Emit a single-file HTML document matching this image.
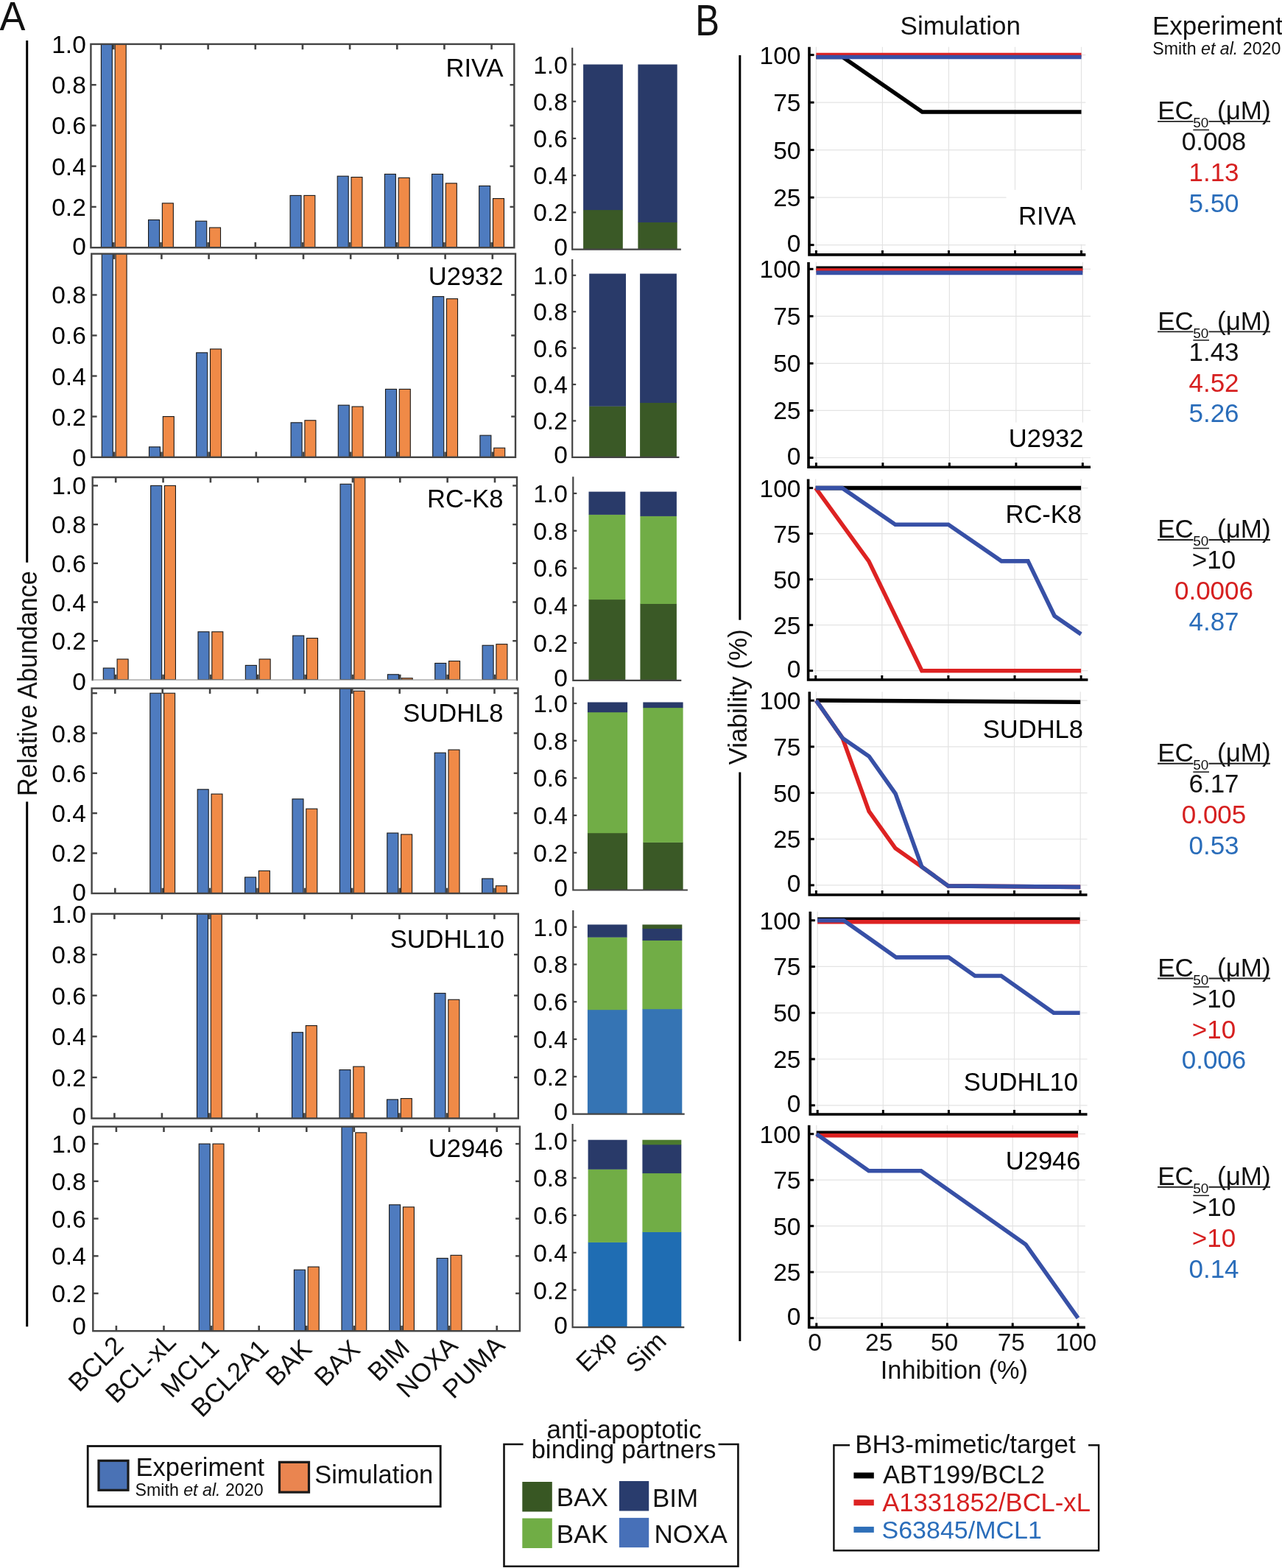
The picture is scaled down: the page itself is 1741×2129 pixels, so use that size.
<!DOCTYPE html>
<html><head><meta charset="utf-8"><title>Figure</title><style>html,body{margin:0;padding:0;background:#fff;}svg{display:block;}</style></head><body>
<svg width="1741" height="2129" viewBox="0 0 1741 2129" font-family="'Liberation Sans', Arial, Helvetica, sans-serif">
<rect x="0" y="0" width="1741" height="2129" fill="#fff"/>
<defs></defs>
<clipPath id="clipA_RIVA"><rect x="123.4" y="59.9" width="574.9" height="276.3"/></clipPath>
<g clip-path="url(#clipA_RIVA)" stroke="#1a1a1a" stroke-width="1.1">
<rect x="137.4" y="4.78" width="15" height="331.32" fill="#4e7bbf" />
<rect x="156.2" y="4.78" width="15" height="331.32" fill="#f08a47" />
<rect x="201.56" y="298.55" width="15" height="37.55" fill="#4e7bbf" />
<rect x="220.36" y="275.91" width="15" height="60.19" fill="#f08a47" />
<rect x="265.72" y="300.21" width="15" height="35.89" fill="#4e7bbf" />
<rect x="284.52" y="309.04" width="15" height="27.06" fill="#f08a47" />
<rect x="394.04" y="265.42" width="15" height="70.68" fill="#4e7bbf" />
<rect x="412.84" y="265.42" width="15" height="70.68" fill="#f08a47" />
<rect x="458.2" y="239.19" width="15" height="96.91" fill="#4e7bbf" />
<rect x="477" y="240.57" width="15" height="95.53" fill="#f08a47" />
<rect x="522.36" y="236.43" width="15" height="99.67" fill="#4e7bbf" />
<rect x="541.16" y="241.4" width="15" height="94.7" fill="#f08a47" />
<rect x="586.52" y="236.43" width="15" height="99.67" fill="#4e7bbf" />
<rect x="605.32" y="248.85" width="15" height="87.25" fill="#f08a47" />
<rect x="650.68" y="252.44" width="15" height="83.66" fill="#4e7bbf" />
<rect x="669.48" y="269.56" width="15" height="66.54" fill="#f08a47" />
</g>
<g stroke="#444444" stroke-width="2.4">
<line x1="154.3" y1="336.2" x2="154.3" y2="328.9" stroke="#444444" stroke-width="2.6" />
<line x1="154.3" y1="59.9" x2="154.3" y2="67.2" stroke="#444444" stroke-width="2.6" />
<line x1="218.46" y1="336.2" x2="218.46" y2="328.9" stroke="#444444" stroke-width="2.6" />
<line x1="218.46" y1="59.9" x2="218.46" y2="67.2" stroke="#444444" stroke-width="2.6" />
<line x1="282.62" y1="336.2" x2="282.62" y2="328.9" stroke="#444444" stroke-width="2.6" />
<line x1="282.62" y1="59.9" x2="282.62" y2="67.2" stroke="#444444" stroke-width="2.6" />
<line x1="346.78" y1="336.2" x2="346.78" y2="328.9" stroke="#444444" stroke-width="2.6" />
<line x1="346.78" y1="59.9" x2="346.78" y2="67.2" stroke="#444444" stroke-width="2.6" />
<line x1="410.94" y1="336.2" x2="410.94" y2="328.9" stroke="#444444" stroke-width="2.6" />
<line x1="410.94" y1="59.9" x2="410.94" y2="67.2" stroke="#444444" stroke-width="2.6" />
<line x1="475.1" y1="336.2" x2="475.1" y2="328.9" stroke="#444444" stroke-width="2.6" />
<line x1="475.1" y1="59.9" x2="475.1" y2="67.2" stroke="#444444" stroke-width="2.6" />
<line x1="539.26" y1="336.2" x2="539.26" y2="328.9" stroke="#444444" stroke-width="2.6" />
<line x1="539.26" y1="59.9" x2="539.26" y2="67.2" stroke="#444444" stroke-width="2.6" />
<line x1="603.42" y1="336.2" x2="603.42" y2="328.9" stroke="#444444" stroke-width="2.6" />
<line x1="603.42" y1="59.9" x2="603.42" y2="67.2" stroke="#444444" stroke-width="2.6" />
<line x1="667.58" y1="336.2" x2="667.58" y2="328.9" stroke="#444444" stroke-width="2.6" />
<line x1="667.58" y1="59.9" x2="667.58" y2="67.2" stroke="#444444" stroke-width="2.6" />
<line x1="123.4" y1="280.88" x2="130.7" y2="280.88" stroke="#444444" stroke-width="2.4" />
<line x1="698.3" y1="280.88" x2="692.5" y2="280.88" stroke="#444444" stroke-width="2.4" />
<line x1="123.4" y1="225.66" x2="130.7" y2="225.66" stroke="#444444" stroke-width="2.4" />
<line x1="698.3" y1="225.66" x2="692.5" y2="225.66" stroke="#444444" stroke-width="2.4" />
<line x1="123.4" y1="170.44" x2="130.7" y2="170.44" stroke="#444444" stroke-width="2.4" />
<line x1="698.3" y1="170.44" x2="692.5" y2="170.44" stroke="#444444" stroke-width="2.4" />
<line x1="123.4" y1="115.22" x2="130.7" y2="115.22" stroke="#444444" stroke-width="2.4" />
<line x1="698.3" y1="115.22" x2="692.5" y2="115.22" stroke="#444444" stroke-width="2.4" />
</g>
<rect x="123.4" y="59.9" width="574.9" height="276.3" fill="none" stroke="#444444" stroke-width="2.4"/>
<text x="116.8" y="72" font-size="33.5" text-anchor="end" fill="#000" >1.0</text>
<text x="116.8" y="127.22" font-size="33.5" text-anchor="end" fill="#000" >0.8</text>
<text x="116.8" y="182.44" font-size="33.5" text-anchor="end" fill="#000" >0.6</text>
<text x="116.8" y="237.66" font-size="33.5" text-anchor="end" fill="#000" >0.4</text>
<text x="116.8" y="292.88" font-size="33.5" text-anchor="end" fill="#000" >0.2</text>
<text x="116.8" y="345.5" font-size="33.5" text-anchor="end" fill="#000" >0</text>
<text x="683.5" y="103.6" font-size="34.5" text-anchor="end" fill="#000" >RIVA</text>
<clipPath id="clipA_U2932"><rect x="124.3" y="344.6" width="575.7" height="276.2"/></clipPath>
<g clip-path="url(#clipA_U2932)" stroke="#1a1a1a" stroke-width="1.1">
<rect x="138.3" y="290.36" width="15" height="330.24" fill="#4e7bbf" />
<rect x="157.1" y="290.36" width="15" height="330.24" fill="#f08a47" />
<rect x="202.5" y="606.84" width="15" height="13.76" fill="#4e7bbf" />
<rect x="221.3" y="565.56" width="15" height="55.04" fill="#f08a47" />
<rect x="266.7" y="478.87" width="15" height="141.73" fill="#4e7bbf" />
<rect x="285.5" y="473.92" width="15" height="146.68" fill="#f08a47" />
<rect x="395.1" y="573.82" width="15" height="46.78" fill="#4e7bbf" />
<rect x="413.9" y="570.79" width="15" height="49.81" fill="#f08a47" />
<rect x="459.3" y="550.15" width="15" height="70.45" fill="#4e7bbf" />
<rect x="478.1" y="552.08" width="15" height="68.52" fill="#f08a47" />
<rect x="523.5" y="528.41" width="15" height="92.19" fill="#4e7bbf" />
<rect x="542.3" y="528.41" width="15" height="92.19" fill="#f08a47" />
<rect x="587.7" y="402.64" width="15" height="217.96" fill="#4e7bbf" />
<rect x="606.5" y="405.67" width="15" height="214.93" fill="#f08a47" />
<rect x="651.9" y="591.15" width="15" height="29.45" fill="#4e7bbf" />
<rect x="670.7" y="608.22" width="15" height="12.38" fill="#f08a47" />
</g>
<g stroke="#444444" stroke-width="2.4">
<line x1="155.2" y1="620.8" x2="155.2" y2="613.5" stroke="#444444" stroke-width="2.6" />
<line x1="155.2" y1="344.6" x2="155.2" y2="351.9" stroke="#444444" stroke-width="2.6" />
<line x1="219.4" y1="620.8" x2="219.4" y2="613.5" stroke="#444444" stroke-width="2.6" />
<line x1="219.4" y1="344.6" x2="219.4" y2="351.9" stroke="#444444" stroke-width="2.6" />
<line x1="283.6" y1="620.8" x2="283.6" y2="613.5" stroke="#444444" stroke-width="2.6" />
<line x1="283.6" y1="344.6" x2="283.6" y2="351.9" stroke="#444444" stroke-width="2.6" />
<line x1="347.8" y1="620.8" x2="347.8" y2="613.5" stroke="#444444" stroke-width="2.6" />
<line x1="347.8" y1="344.6" x2="347.8" y2="351.9" stroke="#444444" stroke-width="2.6" />
<line x1="412" y1="620.8" x2="412" y2="613.5" stroke="#444444" stroke-width="2.6" />
<line x1="412" y1="344.6" x2="412" y2="351.9" stroke="#444444" stroke-width="2.6" />
<line x1="476.2" y1="620.8" x2="476.2" y2="613.5" stroke="#444444" stroke-width="2.6" />
<line x1="476.2" y1="344.6" x2="476.2" y2="351.9" stroke="#444444" stroke-width="2.6" />
<line x1="540.4" y1="620.8" x2="540.4" y2="613.5" stroke="#444444" stroke-width="2.6" />
<line x1="540.4" y1="344.6" x2="540.4" y2="351.9" stroke="#444444" stroke-width="2.6" />
<line x1="604.6" y1="620.8" x2="604.6" y2="613.5" stroke="#444444" stroke-width="2.6" />
<line x1="604.6" y1="344.6" x2="604.6" y2="351.9" stroke="#444444" stroke-width="2.6" />
<line x1="668.8" y1="620.8" x2="668.8" y2="613.5" stroke="#444444" stroke-width="2.6" />
<line x1="668.8" y1="344.6" x2="668.8" y2="351.9" stroke="#444444" stroke-width="2.6" />
<line x1="124.3" y1="565.56" x2="131.6" y2="565.56" stroke="#444444" stroke-width="2.4" />
<line x1="700" y1="565.56" x2="694.2" y2="565.56" stroke="#444444" stroke-width="2.4" />
<line x1="124.3" y1="510.52" x2="131.6" y2="510.52" stroke="#444444" stroke-width="2.4" />
<line x1="700" y1="510.52" x2="694.2" y2="510.52" stroke="#444444" stroke-width="2.4" />
<line x1="124.3" y1="455.48" x2="131.6" y2="455.48" stroke="#444444" stroke-width="2.4" />
<line x1="700" y1="455.48" x2="694.2" y2="455.48" stroke="#444444" stroke-width="2.4" />
<line x1="124.3" y1="400.44" x2="131.6" y2="400.44" stroke="#444444" stroke-width="2.4" />
<line x1="700" y1="400.44" x2="694.2" y2="400.44" stroke="#444444" stroke-width="2.4" />
</g>
<rect x="124.3" y="344.6" width="575.7" height="276.2" fill="none" stroke="#444444" stroke-width="2.4"/>
<text x="116.8" y="412.44" font-size="33.5" text-anchor="end" fill="#000" >0.8</text>
<text x="116.8" y="467.48" font-size="33.5" text-anchor="end" fill="#000" >0.6</text>
<text x="116.8" y="522.52" font-size="33.5" text-anchor="end" fill="#000" >0.4</text>
<text x="116.8" y="577.56" font-size="33.5" text-anchor="end" fill="#000" >0.2</text>
<text x="116.8" y="632.9" font-size="33.5" text-anchor="end" fill="#000" >0</text>
<text x="683.5" y="386.5" font-size="34.5" text-anchor="end" fill="#000" >U2932</text>
<clipPath id="clipA_RCK8"><rect x="125.7" y="648" width="576.3" height="275.1"/></clipPath>
<g clip-path="url(#clipA_RCK8)" stroke="#1a1a1a" stroke-width="1.1">
<rect x="140.3" y="907.09" width="15" height="15.81" fill="#4e7bbf" />
<rect x="159.1" y="894.97" width="15" height="27.93" fill="#f08a47" />
<rect x="204.65" y="659.4" width="15" height="263.5" fill="#4e7bbf" />
<rect x="223.45" y="659.4" width="15" height="263.5" fill="#f08a47" />
<rect x="269" y="857.82" width="15" height="65.08" fill="#4e7bbf" />
<rect x="287.8" y="857.82" width="15" height="65.08" fill="#f08a47" />
<rect x="333.35" y="903.4" width="15" height="19.5" fill="#4e7bbf" />
<rect x="352.15" y="894.97" width="15" height="27.93" fill="#f08a47" />
<rect x="397.7" y="863.09" width="15" height="59.81" fill="#4e7bbf" />
<rect x="416.5" y="866.51" width="15" height="56.39" fill="#f08a47" />
<rect x="462.05" y="657.29" width="15" height="265.61" fill="#4e7bbf" />
<rect x="480.85" y="606.7" width="15" height="316.2" fill="#f08a47" />
<rect x="526.4" y="915.79" width="15" height="7.11" fill="#4e7bbf" />
<rect x="545.2" y="920.79" width="15" height="2.11" fill="#f08a47" />
<rect x="590.75" y="900.5" width="15" height="22.4" fill="#4e7bbf" />
<rect x="609.55" y="897.6" width="15" height="25.3" fill="#f08a47" />
<rect x="655.1" y="876.26" width="15" height="46.64" fill="#4e7bbf" />
<rect x="673.9" y="874.68" width="15" height="48.22" fill="#f08a47" />
</g>
<g stroke="#444444" stroke-width="2.4">
<line x1="157.2" y1="923.1" x2="157.2" y2="915.8" stroke="#444444" stroke-width="2.6" />
<line x1="157.2" y1="648" x2="157.2" y2="655.3" stroke="#444444" stroke-width="2.6" />
<line x1="221.55" y1="923.1" x2="221.55" y2="915.8" stroke="#444444" stroke-width="2.6" />
<line x1="221.55" y1="648" x2="221.55" y2="655.3" stroke="#444444" stroke-width="2.6" />
<line x1="285.9" y1="923.1" x2="285.9" y2="915.8" stroke="#444444" stroke-width="2.6" />
<line x1="285.9" y1="648" x2="285.9" y2="655.3" stroke="#444444" stroke-width="2.6" />
<line x1="350.25" y1="923.1" x2="350.25" y2="915.8" stroke="#444444" stroke-width="2.6" />
<line x1="350.25" y1="648" x2="350.25" y2="655.3" stroke="#444444" stroke-width="2.6" />
<line x1="414.6" y1="923.1" x2="414.6" y2="915.8" stroke="#444444" stroke-width="2.6" />
<line x1="414.6" y1="648" x2="414.6" y2="655.3" stroke="#444444" stroke-width="2.6" />
<line x1="478.95" y1="923.1" x2="478.95" y2="915.8" stroke="#444444" stroke-width="2.6" />
<line x1="478.95" y1="648" x2="478.95" y2="655.3" stroke="#444444" stroke-width="2.6" />
<line x1="543.3" y1="923.1" x2="543.3" y2="915.8" stroke="#444444" stroke-width="2.6" />
<line x1="543.3" y1="648" x2="543.3" y2="655.3" stroke="#444444" stroke-width="2.6" />
<line x1="607.65" y1="923.1" x2="607.65" y2="915.8" stroke="#444444" stroke-width="2.6" />
<line x1="607.65" y1="648" x2="607.65" y2="655.3" stroke="#444444" stroke-width="2.6" />
<line x1="672" y1="923.1" x2="672" y2="915.8" stroke="#444444" stroke-width="2.6" />
<line x1="672" y1="648" x2="672" y2="655.3" stroke="#444444" stroke-width="2.6" />
<line x1="125.7" y1="870.2" x2="133" y2="870.2" stroke="#444444" stroke-width="2.4" />
<line x1="702" y1="870.2" x2="696.2" y2="870.2" stroke="#444444" stroke-width="2.4" />
<line x1="125.7" y1="817.5" x2="133" y2="817.5" stroke="#444444" stroke-width="2.4" />
<line x1="702" y1="817.5" x2="696.2" y2="817.5" stroke="#444444" stroke-width="2.4" />
<line x1="125.7" y1="764.8" x2="133" y2="764.8" stroke="#444444" stroke-width="2.4" />
<line x1="702" y1="764.8" x2="696.2" y2="764.8" stroke="#444444" stroke-width="2.4" />
<line x1="125.7" y1="712.1" x2="133" y2="712.1" stroke="#444444" stroke-width="2.4" />
<line x1="702" y1="712.1" x2="696.2" y2="712.1" stroke="#444444" stroke-width="2.4" />
<line x1="125.7" y1="659.4" x2="133" y2="659.4" stroke="#444444" stroke-width="2.4" />
<line x1="702" y1="659.4" x2="696.2" y2="659.4" stroke="#444444" stroke-width="2.4" />
</g>
<path d="M125.7 923.1 V648 H702 V923.1" fill="none" stroke="#444444" stroke-width="2.4" stroke-linecap="square"/>
<line x1="125.7" y1="923.1" x2="702" y2="923.1" stroke="#9a9a9a" stroke-width="1.2" />
<text x="116.8" y="671.4" font-size="33.5" text-anchor="end" fill="#000" >1.0</text>
<text x="116.8" y="724.1" font-size="33.5" text-anchor="end" fill="#000" >0.8</text>
<text x="116.8" y="776.8" font-size="33.5" text-anchor="end" fill="#000" >0.6</text>
<text x="116.8" y="829.5" font-size="33.5" text-anchor="end" fill="#000" >0.4</text>
<text x="116.8" y="882.2" font-size="33.5" text-anchor="end" fill="#000" >0.2</text>
<text x="116.8" y="937.2" font-size="33.5" text-anchor="end" fill="#000" >0</text>
<text x="683.5" y="689" font-size="34.5" text-anchor="end" fill="#000" >RC-K8</text>
<clipPath id="clipA_SUDHL8"><rect x="124.6" y="934.6" width="578.9" height="278.4"/></clipPath>
<g clip-path="url(#clipA_SUDHL8)" stroke="#1a1a1a" stroke-width="1.1">
<rect x="203.8" y="941.2" width="15" height="271.6" fill="#4e7bbf" />
<rect x="222.6" y="941.2" width="15" height="271.6" fill="#f08a47" />
<rect x="268.2" y="1071.84" width="15" height="140.96" fill="#4e7bbf" />
<rect x="287" y="1078.09" width="15" height="134.71" fill="#f08a47" />
<rect x="332.6" y="1191.07" width="15" height="21.73" fill="#4e7bbf" />
<rect x="351.4" y="1182.38" width="15" height="30.42" fill="#f08a47" />
<rect x="397" y="1084.88" width="15" height="127.92" fill="#4e7bbf" />
<rect x="415.8" y="1098.18" width="15" height="114.62" fill="#f08a47" />
<rect x="461.4" y="886.88" width="15" height="325.92" fill="#4e7bbf" />
<rect x="480.2" y="938.21" width="15" height="274.59" fill="#f08a47" />
<rect x="525.8" y="1131.05" width="15" height="81.75" fill="#4e7bbf" />
<rect x="544.6" y="1132.95" width="15" height="79.85" fill="#f08a47" />
<rect x="590.2" y="1022.14" width="15" height="190.66" fill="#4e7bbf" />
<rect x="609" y="1018.06" width="15" height="194.74" fill="#f08a47" />
<rect x="654.6" y="1192.97" width="15" height="19.83" fill="#4e7bbf" />
<rect x="673.4" y="1202.75" width="15" height="10.05" fill="#f08a47" />
</g>
<g stroke="#444444" stroke-width="2.4">
<line x1="156.3" y1="1213" x2="156.3" y2="1205.7" stroke="#444444" stroke-width="2.6" />
<line x1="156.3" y1="934.6" x2="156.3" y2="941.9" stroke="#444444" stroke-width="2.6" />
<line x1="220.7" y1="1213" x2="220.7" y2="1205.7" stroke="#444444" stroke-width="2.6" />
<line x1="220.7" y1="934.6" x2="220.7" y2="941.9" stroke="#444444" stroke-width="2.6" />
<line x1="285.1" y1="1213" x2="285.1" y2="1205.7" stroke="#444444" stroke-width="2.6" />
<line x1="285.1" y1="934.6" x2="285.1" y2="941.9" stroke="#444444" stroke-width="2.6" />
<line x1="349.5" y1="1213" x2="349.5" y2="1205.7" stroke="#444444" stroke-width="2.6" />
<line x1="349.5" y1="934.6" x2="349.5" y2="941.9" stroke="#444444" stroke-width="2.6" />
<line x1="413.9" y1="1213" x2="413.9" y2="1205.7" stroke="#444444" stroke-width="2.6" />
<line x1="413.9" y1="934.6" x2="413.9" y2="941.9" stroke="#444444" stroke-width="2.6" />
<line x1="478.3" y1="1213" x2="478.3" y2="1205.7" stroke="#444444" stroke-width="2.6" />
<line x1="478.3" y1="934.6" x2="478.3" y2="941.9" stroke="#444444" stroke-width="2.6" />
<line x1="542.7" y1="1213" x2="542.7" y2="1205.7" stroke="#444444" stroke-width="2.6" />
<line x1="542.7" y1="934.6" x2="542.7" y2="941.9" stroke="#444444" stroke-width="2.6" />
<line x1="607.1" y1="1213" x2="607.1" y2="1205.7" stroke="#444444" stroke-width="2.6" />
<line x1="607.1" y1="934.6" x2="607.1" y2="941.9" stroke="#444444" stroke-width="2.6" />
<line x1="671.5" y1="1213" x2="671.5" y2="1205.7" stroke="#444444" stroke-width="2.6" />
<line x1="671.5" y1="934.6" x2="671.5" y2="941.9" stroke="#444444" stroke-width="2.6" />
<line x1="124.6" y1="1158.48" x2="131.9" y2="1158.48" stroke="#444444" stroke-width="2.4" />
<line x1="703.5" y1="1158.48" x2="697.7" y2="1158.48" stroke="#444444" stroke-width="2.4" />
<line x1="124.6" y1="1104.16" x2="131.9" y2="1104.16" stroke="#444444" stroke-width="2.4" />
<line x1="703.5" y1="1104.16" x2="697.7" y2="1104.16" stroke="#444444" stroke-width="2.4" />
<line x1="124.6" y1="1049.84" x2="131.9" y2="1049.84" stroke="#444444" stroke-width="2.4" />
<line x1="703.5" y1="1049.84" x2="697.7" y2="1049.84" stroke="#444444" stroke-width="2.4" />
<line x1="124.6" y1="995.52" x2="131.9" y2="995.52" stroke="#444444" stroke-width="2.4" />
<line x1="703.5" y1="995.52" x2="697.7" y2="995.52" stroke="#444444" stroke-width="2.4" />
<line x1="124.6" y1="941.2" x2="131.9" y2="941.2" stroke="#444444" stroke-width="2.4" />
<line x1="703.5" y1="941.2" x2="697.7" y2="941.2" stroke="#444444" stroke-width="2.4" />
</g>
<rect x="124.6" y="934.6" width="578.9" height="278.4" fill="none" stroke="#444444" stroke-width="2.4"/>
<text x="116.8" y="1007.52" font-size="33.5" text-anchor="end" fill="#000" >0.8</text>
<text x="116.8" y="1061.84" font-size="33.5" text-anchor="end" fill="#000" >0.6</text>
<text x="116.8" y="1116.16" font-size="33.5" text-anchor="end" fill="#000" >0.4</text>
<text x="116.8" y="1170.48" font-size="33.5" text-anchor="end" fill="#000" >0.2</text>
<text x="116.8" y="1223.3" font-size="33.5" text-anchor="end" fill="#000" >0</text>
<text x="683.5" y="980" font-size="34.5" text-anchor="end" fill="#000" >SUDHL8</text>
<clipPath id="clipA_SUDHL10"><rect x="124.4" y="1240.8" width="579.4" height="277.7"/></clipPath>
<g clip-path="url(#clipA_SUDHL10)" stroke="#1a1a1a" stroke-width="1.1">
<rect x="267.5" y="1184.9" width="15" height="333.6" fill="#4e7bbf" />
<rect x="286.3" y="1184.9" width="15" height="333.6" fill="#f08a47" />
<rect x="396.5" y="1401.74" width="15" height="116.76" fill="#4e7bbf" />
<rect x="415.3" y="1392.57" width="15" height="125.93" fill="#f08a47" />
<rect x="461" y="1452.61" width="15" height="65.89" fill="#4e7bbf" />
<rect x="479.8" y="1448.17" width="15" height="70.33" fill="#f08a47" />
<rect x="525.5" y="1492.92" width="15" height="25.58" fill="#4e7bbf" />
<rect x="544.3" y="1491.53" width="15" height="26.97" fill="#f08a47" />
<rect x="590" y="1348.64" width="15" height="169.86" fill="#4e7bbf" />
<rect x="608.8" y="1357.26" width="15" height="161.24" fill="#f08a47" />
</g>
<g stroke="#444444" stroke-width="2.4">
<line x1="155.4" y1="1518.5" x2="155.4" y2="1511.2" stroke="#444444" stroke-width="2.6" />
<line x1="155.4" y1="1240.8" x2="155.4" y2="1248.1" stroke="#444444" stroke-width="2.6" />
<line x1="219.9" y1="1518.5" x2="219.9" y2="1511.2" stroke="#444444" stroke-width="2.6" />
<line x1="219.9" y1="1240.8" x2="219.9" y2="1248.1" stroke="#444444" stroke-width="2.6" />
<line x1="284.4" y1="1518.5" x2="284.4" y2="1511.2" stroke="#444444" stroke-width="2.6" />
<line x1="284.4" y1="1240.8" x2="284.4" y2="1248.1" stroke="#444444" stroke-width="2.6" />
<line x1="348.9" y1="1518.5" x2="348.9" y2="1511.2" stroke="#444444" stroke-width="2.6" />
<line x1="348.9" y1="1240.8" x2="348.9" y2="1248.1" stroke="#444444" stroke-width="2.6" />
<line x1="413.4" y1="1518.5" x2="413.4" y2="1511.2" stroke="#444444" stroke-width="2.6" />
<line x1="413.4" y1="1240.8" x2="413.4" y2="1248.1" stroke="#444444" stroke-width="2.6" />
<line x1="477.9" y1="1518.5" x2="477.9" y2="1511.2" stroke="#444444" stroke-width="2.6" />
<line x1="477.9" y1="1240.8" x2="477.9" y2="1248.1" stroke="#444444" stroke-width="2.6" />
<line x1="542.4" y1="1518.5" x2="542.4" y2="1511.2" stroke="#444444" stroke-width="2.6" />
<line x1="542.4" y1="1240.8" x2="542.4" y2="1248.1" stroke="#444444" stroke-width="2.6" />
<line x1="606.9" y1="1518.5" x2="606.9" y2="1511.2" stroke="#444444" stroke-width="2.6" />
<line x1="606.9" y1="1240.8" x2="606.9" y2="1248.1" stroke="#444444" stroke-width="2.6" />
<line x1="671.4" y1="1518.5" x2="671.4" y2="1511.2" stroke="#444444" stroke-width="2.6" />
<line x1="671.4" y1="1240.8" x2="671.4" y2="1248.1" stroke="#444444" stroke-width="2.6" />
<line x1="124.4" y1="1462.9" x2="131.7" y2="1462.9" stroke="#444444" stroke-width="2.4" />
<line x1="703.8" y1="1462.9" x2="698" y2="1462.9" stroke="#444444" stroke-width="2.4" />
<line x1="124.4" y1="1407.3" x2="131.7" y2="1407.3" stroke="#444444" stroke-width="2.4" />
<line x1="703.8" y1="1407.3" x2="698" y2="1407.3" stroke="#444444" stroke-width="2.4" />
<line x1="124.4" y1="1351.7" x2="131.7" y2="1351.7" stroke="#444444" stroke-width="2.4" />
<line x1="703.8" y1="1351.7" x2="698" y2="1351.7" stroke="#444444" stroke-width="2.4" />
<line x1="124.4" y1="1296.1" x2="131.7" y2="1296.1" stroke="#444444" stroke-width="2.4" />
<line x1="703.8" y1="1296.1" x2="698" y2="1296.1" stroke="#444444" stroke-width="2.4" />
</g>
<rect x="124.4" y="1240.8" width="579.4" height="277.7" fill="none" stroke="#444444" stroke-width="2.4"/>
<text x="116.8" y="1252.5" font-size="33.5" text-anchor="end" fill="#000" >1.0</text>
<text x="116.8" y="1308.1" font-size="33.5" text-anchor="end" fill="#000" >0.8</text>
<text x="116.8" y="1363.7" font-size="33.5" text-anchor="end" fill="#000" >0.6</text>
<text x="116.8" y="1419.3" font-size="33.5" text-anchor="end" fill="#000" >0.4</text>
<text x="116.8" y="1474.9" font-size="33.5" text-anchor="end" fill="#000" >0.2</text>
<text x="116.8" y="1527.2" font-size="33.5" text-anchor="end" fill="#000" >0</text>
<text x="685" y="1287" font-size="34.5" text-anchor="end" fill="#000" >SUDHL10</text>
<clipPath id="clipA_U2946"><rect x="126.3" y="1529.7" width="579.6" height="277.5"/></clipPath>
<g clip-path="url(#clipA_U2946)" stroke="#1a1a1a" stroke-width="1.1">
<rect x="270.2" y="1553.1" width="15" height="253.8" fill="#4e7bbf" />
<rect x="289" y="1553.1" width="15" height="253.8" fill="#f08a47" />
<rect x="399.4" y="1724.16" width="15" height="82.74" fill="#4e7bbf" />
<rect x="418.2" y="1720.1" width="15" height="86.8" fill="#f08a47" />
<rect x="464" y="1502.34" width="15" height="304.56" fill="#4e7bbf" />
<rect x="482.8" y="1537.87" width="15" height="269.03" fill="#f08a47" />
<rect x="528.6" y="1635.84" width="15" height="171.06" fill="#4e7bbf" />
<rect x="547.4" y="1638.88" width="15" height="168.02" fill="#f08a47" />
<rect x="593.2" y="1708.43" width="15" height="98.47" fill="#4e7bbf" />
<rect x="612" y="1704.36" width="15" height="102.54" fill="#f08a47" />
</g>
<g stroke="#444444" stroke-width="2.4">
<line x1="157.9" y1="1807.2" x2="157.9" y2="1799.9" stroke="#444444" stroke-width="2.6" />
<line x1="157.9" y1="1529.7" x2="157.9" y2="1537" stroke="#444444" stroke-width="2.6" />
<line x1="222.5" y1="1807.2" x2="222.5" y2="1799.9" stroke="#444444" stroke-width="2.6" />
<line x1="222.5" y1="1529.7" x2="222.5" y2="1537" stroke="#444444" stroke-width="2.6" />
<line x1="287.1" y1="1807.2" x2="287.1" y2="1799.9" stroke="#444444" stroke-width="2.6" />
<line x1="287.1" y1="1529.7" x2="287.1" y2="1537" stroke="#444444" stroke-width="2.6" />
<line x1="351.7" y1="1807.2" x2="351.7" y2="1799.9" stroke="#444444" stroke-width="2.6" />
<line x1="351.7" y1="1529.7" x2="351.7" y2="1537" stroke="#444444" stroke-width="2.6" />
<line x1="416.3" y1="1807.2" x2="416.3" y2="1799.9" stroke="#444444" stroke-width="2.6" />
<line x1="416.3" y1="1529.7" x2="416.3" y2="1537" stroke="#444444" stroke-width="2.6" />
<line x1="480.9" y1="1807.2" x2="480.9" y2="1799.9" stroke="#444444" stroke-width="2.6" />
<line x1="480.9" y1="1529.7" x2="480.9" y2="1537" stroke="#444444" stroke-width="2.6" />
<line x1="545.5" y1="1807.2" x2="545.5" y2="1799.9" stroke="#444444" stroke-width="2.6" />
<line x1="545.5" y1="1529.7" x2="545.5" y2="1537" stroke="#444444" stroke-width="2.6" />
<line x1="610.1" y1="1807.2" x2="610.1" y2="1799.9" stroke="#444444" stroke-width="2.6" />
<line x1="610.1" y1="1529.7" x2="610.1" y2="1537" stroke="#444444" stroke-width="2.6" />
<line x1="674.7" y1="1807.2" x2="674.7" y2="1799.9" stroke="#444444" stroke-width="2.6" />
<line x1="674.7" y1="1529.7" x2="674.7" y2="1537" stroke="#444444" stroke-width="2.6" />
<line x1="126.3" y1="1756.14" x2="133.6" y2="1756.14" stroke="#444444" stroke-width="2.4" />
<line x1="705.9" y1="1756.14" x2="700.1" y2="1756.14" stroke="#444444" stroke-width="2.4" />
<line x1="126.3" y1="1705.38" x2="133.6" y2="1705.38" stroke="#444444" stroke-width="2.4" />
<line x1="705.9" y1="1705.38" x2="700.1" y2="1705.38" stroke="#444444" stroke-width="2.4" />
<line x1="126.3" y1="1654.62" x2="133.6" y2="1654.62" stroke="#444444" stroke-width="2.4" />
<line x1="705.9" y1="1654.62" x2="700.1" y2="1654.62" stroke="#444444" stroke-width="2.4" />
<line x1="126.3" y1="1603.86" x2="133.6" y2="1603.86" stroke="#444444" stroke-width="2.4" />
<line x1="705.9" y1="1603.86" x2="700.1" y2="1603.86" stroke="#444444" stroke-width="2.4" />
<line x1="126.3" y1="1553.1" x2="133.6" y2="1553.1" stroke="#444444" stroke-width="2.4" />
<line x1="705.9" y1="1553.1" x2="700.1" y2="1553.1" stroke="#444444" stroke-width="2.4" />
</g>
<rect x="126.3" y="1529.7" width="579.6" height="277.5" fill="none" stroke="#444444" stroke-width="2.4"/>
<text x="116.8" y="1565.1" font-size="33.5" text-anchor="end" fill="#000" >1.0</text>
<text x="116.8" y="1615.86" font-size="33.5" text-anchor="end" fill="#000" >0.8</text>
<text x="116.8" y="1666.62" font-size="33.5" text-anchor="end" fill="#000" >0.6</text>
<text x="116.8" y="1717.38" font-size="33.5" text-anchor="end" fill="#000" >0.4</text>
<text x="116.8" y="1768.14" font-size="33.5" text-anchor="end" fill="#000" >0.2</text>
<text x="116.8" y="1811.9" font-size="33.5" text-anchor="end" fill="#000" >0</text>
<text x="683.5" y="1571.2" font-size="34.5" text-anchor="end" fill="#000" >U2946</text>
<rect x="792.1" y="284.86" width="53.7" height="54.04" fill="#3a5926" />
<rect x="792.1" y="87.5" width="53.7" height="197.66" fill="#293a69" />
<rect x="866.4" y="301.69" width="53.3" height="37.21" fill="#3a5926" />
<rect x="866.4" y="87.5" width="53.3" height="214.49" fill="#293a69" />
<g stroke="#444444" stroke-width="2.2" fill="none">
<path d="M777.2 64.8 V338.6 H924.9"/>
<line x1="777.2" y1="288.38" x2="782.2" y2="288.38" stroke="#444444" stroke-width="2.2" />
<line x1="777.2" y1="238.16" x2="782.2" y2="238.16" stroke="#444444" stroke-width="2.2" />
<line x1="777.2" y1="187.94" x2="782.2" y2="187.94" stroke="#444444" stroke-width="2.2" />
<line x1="777.2" y1="137.72" x2="782.2" y2="137.72" stroke="#444444" stroke-width="2.2" />
<line x1="777.2" y1="87.5" x2="782.2" y2="87.5" stroke="#444444" stroke-width="2.2" />
</g>
<text x="770.8" y="347" font-size="33.5" text-anchor="end" fill="#000" >0</text>
<text x="770.8" y="300.38" font-size="33.5" text-anchor="end" fill="#000" >0.2</text>
<text x="770.8" y="250.16" font-size="33.5" text-anchor="end" fill="#000" >0.4</text>
<text x="770.8" y="199.94" font-size="33.5" text-anchor="end" fill="#000" >0.6</text>
<text x="770.8" y="149.72" font-size="33.5" text-anchor="end" fill="#000" >0.8</text>
<text x="770.8" y="99.5" font-size="33.5" text-anchor="end" fill="#000" >1.0</text>
<rect x="800.2" y="551.39" width="49.8" height="69.71" fill="#3a5926" />
<rect x="800.2" y="371.58" width="49.8" height="180.12" fill="#293a69" />
<rect x="869.1" y="546.7" width="49.8" height="74.4" fill="#3a5926" />
<rect x="869.1" y="371.58" width="49.8" height="175.42" fill="#293a69" />
<g stroke="#444444" stroke-width="2.2" fill="none">
<path d="M777.2 351.9 V620.8 H922.4"/>
<line x1="777.2" y1="571.4" x2="782.2" y2="571.4" stroke="#444444" stroke-width="2.2" />
<line x1="777.2" y1="522" x2="782.2" y2="522" stroke="#444444" stroke-width="2.2" />
<line x1="777.2" y1="472.6" x2="782.2" y2="472.6" stroke="#444444" stroke-width="2.2" />
<line x1="777.2" y1="423.2" x2="782.2" y2="423.2" stroke="#444444" stroke-width="2.2" />
<line x1="777.2" y1="373.8" x2="782.2" y2="373.8" stroke="#444444" stroke-width="2.2" />
</g>
<text x="770.8" y="629.2" font-size="33.5" text-anchor="end" fill="#000" >0</text>
<text x="770.8" y="583.4" font-size="33.5" text-anchor="end" fill="#000" >0.2</text>
<text x="770.8" y="534" font-size="33.5" text-anchor="end" fill="#000" >0.4</text>
<text x="770.8" y="484.6" font-size="33.5" text-anchor="end" fill="#000" >0.6</text>
<text x="770.8" y="435.2" font-size="33.5" text-anchor="end" fill="#000" >0.8</text>
<text x="770.8" y="385.8" font-size="33.5" text-anchor="end" fill="#000" >1.0</text>
<rect x="799.5" y="813.86" width="49.8" height="110.24" fill="#3a5926" />
<rect x="799.5" y="698.59" width="49.8" height="115.57" fill="#71ad46" />
<rect x="799.5" y="667.61" width="49.8" height="31.28" fill="#293a69" />
<rect x="869.4" y="819.7" width="49.5" height="104.4" fill="#3a5926" />
<rect x="869.4" y="700.62" width="49.5" height="119.38" fill="#71ad46" />
<rect x="869.4" y="667.61" width="49.5" height="33.31" fill="#293a69" />
<g stroke="#444444" stroke-width="2.2" fill="none">
<path d="M778.3 647.3 V923.8 H925.3"/>
<line x1="778.3" y1="873.02" x2="783.3" y2="873.02" stroke="#444444" stroke-width="2.2" />
<line x1="778.3" y1="822.24" x2="783.3" y2="822.24" stroke="#444444" stroke-width="2.2" />
<line x1="778.3" y1="771.46" x2="783.3" y2="771.46" stroke="#444444" stroke-width="2.2" />
<line x1="778.3" y1="720.68" x2="783.3" y2="720.68" stroke="#444444" stroke-width="2.2" />
<line x1="778.3" y1="669.9" x2="783.3" y2="669.9" stroke="#444444" stroke-width="2.2" />
</g>
<text x="770.8" y="932.2" font-size="33.5" text-anchor="end" fill="#000" >0</text>
<text x="770.8" y="885.02" font-size="33.5" text-anchor="end" fill="#000" >0.2</text>
<text x="770.8" y="834.24" font-size="33.5" text-anchor="end" fill="#000" >0.4</text>
<text x="770.8" y="783.46" font-size="33.5" text-anchor="end" fill="#000" >0.6</text>
<text x="770.8" y="732.68" font-size="33.5" text-anchor="end" fill="#000" >0.8</text>
<text x="770.8" y="681.9" font-size="33.5" text-anchor="end" fill="#000" >1.0</text>
<rect x="797.9" y="1130.93" width="54.2" height="77.87" fill="#3a5926" />
<rect x="797.9" y="966.91" width="54.2" height="164.31" fill="#71ad46" />
<rect x="797.9" y="953.48" width="54.2" height="13.74" fill="#293a69" />
<rect x="873.3" y="1143.6" width="54.3" height="65.2" fill="#3a5926" />
<rect x="873.3" y="960.83" width="54.3" height="183.07" fill="#71ad46" />
<rect x="873.3" y="953.48" width="54.3" height="7.65" fill="#293a69" />
<g stroke="#444444" stroke-width="2.2" fill="none">
<path d="M778.3 932.7 V1208.5 H933.9"/>
<line x1="778.3" y1="1157.8" x2="783.3" y2="1157.8" stroke="#444444" stroke-width="2.2" />
<line x1="778.3" y1="1107.1" x2="783.3" y2="1107.1" stroke="#444444" stroke-width="2.2" />
<line x1="778.3" y1="1056.4" x2="783.3" y2="1056.4" stroke="#444444" stroke-width="2.2" />
<line x1="778.3" y1="1005.7" x2="783.3" y2="1005.7" stroke="#444444" stroke-width="2.2" />
<line x1="778.3" y1="955" x2="783.3" y2="955" stroke="#444444" stroke-width="2.2" />
</g>
<text x="770.8" y="1216.9" font-size="33.5" text-anchor="end" fill="#000" >0</text>
<text x="770.8" y="1169.8" font-size="33.5" text-anchor="end" fill="#000" >0.2</text>
<text x="770.8" y="1119.1" font-size="33.5" text-anchor="end" fill="#000" >0.4</text>
<text x="770.8" y="1068.4" font-size="33.5" text-anchor="end" fill="#000" >0.6</text>
<text x="770.8" y="1017.7" font-size="33.5" text-anchor="end" fill="#000" >0.8</text>
<text x="770.8" y="967" font-size="33.5" text-anchor="end" fill="#000" >1.0</text>
<rect x="797.9" y="1370.92" width="53.7" height="141.98" fill="#3574b4" />
<rect x="797.9" y="1272.41" width="53.7" height="98.81" fill="#71ad46" />
<rect x="797.9" y="1255.4" width="53.7" height="17.31" fill="#293a69" />
<rect x="872.4" y="1369.91" width="53.9" height="142.99" fill="#3574b4" />
<rect x="872.4" y="1276.73" width="53.9" height="93.48" fill="#71ad46" />
<rect x="872.4" y="1260.73" width="53.9" height="16.3" fill="#293a69" />
<rect x="872.4" y="1255.4" width="53.9" height="5.63" fill="#3a5926" />
<g stroke="#444444" stroke-width="2.2" fill="none">
<path d="M778.3 1236.1 V1512.6 H929.7"/>
<line x1="778.3" y1="1461.82" x2="783.3" y2="1461.82" stroke="#444444" stroke-width="2.2" />
<line x1="778.3" y1="1411.04" x2="783.3" y2="1411.04" stroke="#444444" stroke-width="2.2" />
<line x1="778.3" y1="1360.26" x2="783.3" y2="1360.26" stroke="#444444" stroke-width="2.2" />
<line x1="778.3" y1="1309.48" x2="783.3" y2="1309.48" stroke="#444444" stroke-width="2.2" />
<line x1="778.3" y1="1258.7" x2="783.3" y2="1258.7" stroke="#444444" stroke-width="2.2" />
</g>
<text x="770.8" y="1521" font-size="33.5" text-anchor="end" fill="#000" >0</text>
<text x="770.8" y="1473.82" font-size="33.5" text-anchor="end" fill="#000" >0.2</text>
<text x="770.8" y="1423.04" font-size="33.5" text-anchor="end" fill="#000" >0.4</text>
<text x="770.8" y="1372.26" font-size="33.5" text-anchor="end" fill="#000" >0.6</text>
<text x="770.8" y="1321.48" font-size="33.5" text-anchor="end" fill="#000" >0.8</text>
<text x="770.8" y="1270.7" font-size="33.5" text-anchor="end" fill="#000" >1.0</text>
<rect x="798.6" y="1686.6" width="53" height="115.9" fill="#1f6db3" />
<rect x="798.6" y="1587.49" width="53" height="99.42" fill="#71ad46" />
<rect x="798.6" y="1547.69" width="53" height="40.1" fill="#293a69" />
<rect x="872.4" y="1672.66" width="52.9" height="129.84" fill="#1f6db3" />
<rect x="872.4" y="1592.81" width="52.9" height="80.15" fill="#71ad46" />
<rect x="872.4" y="1554.02" width="52.9" height="39.09" fill="#293a69" />
<rect x="872.4" y="1547.69" width="52.9" height="6.64" fill="#4b7a2e" />
<g stroke="#444444" stroke-width="2.2" fill="none">
<path d="M777.6 1526.1 V1802.2 H929.3"/>
<line x1="777.6" y1="1751.5" x2="782.6" y2="1751.5" stroke="#444444" stroke-width="2.2" />
<line x1="777.6" y1="1700.8" x2="782.6" y2="1700.8" stroke="#444444" stroke-width="2.2" />
<line x1="777.6" y1="1650.1" x2="782.6" y2="1650.1" stroke="#444444" stroke-width="2.2" />
<line x1="777.6" y1="1599.4" x2="782.6" y2="1599.4" stroke="#444444" stroke-width="2.2" />
<line x1="777.6" y1="1548.7" x2="782.6" y2="1548.7" stroke="#444444" stroke-width="2.2" />
</g>
<text x="770.8" y="1810.6" font-size="33.5" text-anchor="end" fill="#000" >0</text>
<text x="770.8" y="1763.5" font-size="33.5" text-anchor="end" fill="#000" >0.2</text>
<text x="770.8" y="1712.8" font-size="33.5" text-anchor="end" fill="#000" >0.4</text>
<text x="770.8" y="1662.1" font-size="33.5" text-anchor="end" fill="#000" >0.6</text>
<text x="770.8" y="1611.4" font-size="33.5" text-anchor="end" fill="#000" >0.8</text>
<text x="770.8" y="1560.7" font-size="33.5" text-anchor="end" fill="#000" >1.0</text>
<g stroke="#e3e3e3" stroke-width="1.2">
<line x1="1108.4" y1="63.8" x2="1108.4" y2="345.9" stroke="#e3e3e3" stroke-width="1.2" />
<line x1="1099" y1="332.6" x2="1474.3" y2="332.6" stroke="#e3e3e3" stroke-width="1.2" />
<line x1="1198.43" y1="63.8" x2="1198.43" y2="345.9" stroke="#e3e3e3" stroke-width="1.2" />
<line x1="1099" y1="268.1" x2="1474.3" y2="268.1" stroke="#e3e3e3" stroke-width="1.2" />
<line x1="1288.45" y1="63.8" x2="1288.45" y2="345.9" stroke="#e3e3e3" stroke-width="1.2" />
<line x1="1099" y1="203.6" x2="1474.3" y2="203.6" stroke="#e3e3e3" stroke-width="1.2" />
<line x1="1378.47" y1="63.8" x2="1378.47" y2="345.9" stroke="#e3e3e3" stroke-width="1.2" />
<line x1="1099" y1="139.1" x2="1474.3" y2="139.1" stroke="#e3e3e3" stroke-width="1.2" />
<line x1="1468.5" y1="63.8" x2="1468.5" y2="345.9" stroke="#e3e3e3" stroke-width="1.2" />
<line x1="1099" y1="74.6" x2="1474.3" y2="74.6" stroke="#e3e3e3" stroke-width="1.2" />
</g>
<rect x="1366.5" y="257.8" width="108.5" height="73.8" fill="#fff" />
<path d="M1108.4 77.44 L1144.41 77.44 L1252.44 152 L1468.5 152" fill="none" stroke="#000" stroke-width="5.6" stroke-linejoin="miter" stroke-linecap="butt"/>
<path d="M1108.4 74.6 L1468.5 74.6" fill="none" stroke="#dd2222" stroke-width="5.6" stroke-linejoin="miter" stroke-linecap="butt"/>
<path d="M1108.4 77.44 L1468.5 77.44" fill="none" stroke="#3750a6" stroke-width="5.6" stroke-linejoin="miter" stroke-linecap="butt"/>
<path d="M1099 63.8 V345.9 H1474.3" fill="none" stroke="#000" stroke-width="3.6"/>
<line x1="1108.4" y1="345.9" x2="1108.4" y2="339.9" stroke="#000" stroke-width="3" />
<line x1="1099" y1="332.6" x2="1105.5" y2="332.6" stroke="#000" stroke-width="3" />
<text x="1087.5" y="341.6" font-size="33.5" text-anchor="end" fill="#000" >0</text>
<line x1="1198.43" y1="345.9" x2="1198.43" y2="339.9" stroke="#000" stroke-width="3" />
<line x1="1099" y1="268.1" x2="1105.5" y2="268.1" stroke="#000" stroke-width="3" />
<text x="1087.5" y="280.1" font-size="33.5" text-anchor="end" fill="#000" >25</text>
<line x1="1288.45" y1="345.9" x2="1288.45" y2="339.9" stroke="#000" stroke-width="3" />
<line x1="1099" y1="203.6" x2="1105.5" y2="203.6" stroke="#000" stroke-width="3" />
<text x="1087.5" y="215.6" font-size="33.5" text-anchor="end" fill="#000" >50</text>
<line x1="1378.47" y1="345.9" x2="1378.47" y2="339.9" stroke="#000" stroke-width="3" />
<line x1="1099" y1="139.1" x2="1105.5" y2="139.1" stroke="#000" stroke-width="3" />
<text x="1087.5" y="151.1" font-size="33.5" text-anchor="end" fill="#000" >75</text>
<line x1="1468.5" y1="345.9" x2="1468.5" y2="339.9" stroke="#000" stroke-width="3" />
<line x1="1099" y1="74.6" x2="1105.5" y2="74.6" stroke="#000" stroke-width="3" />
<text x="1087.5" y="86.6" font-size="33.5" text-anchor="end" fill="#000" >100</text>
<text x="1461" y="305" font-size="34.5" text-anchor="end" fill="#000" >RIVA</text>
<g stroke="#e3e3e3" stroke-width="1.2">
<line x1="1108.4" y1="356.1" x2="1108.4" y2="634.2" stroke="#e3e3e3" stroke-width="1.2" />
<line x1="1098" y1="621.5" x2="1481" y2="621.5" stroke="#e3e3e3" stroke-width="1.2" />
<line x1="1198.88" y1="356.1" x2="1198.88" y2="634.2" stroke="#e3e3e3" stroke-width="1.2" />
<line x1="1098" y1="557.45" x2="1481" y2="557.45" stroke="#e3e3e3" stroke-width="1.2" />
<line x1="1289.35" y1="356.1" x2="1289.35" y2="634.2" stroke="#e3e3e3" stroke-width="1.2" />
<line x1="1098" y1="493.4" x2="1481" y2="493.4" stroke="#e3e3e3" stroke-width="1.2" />
<line x1="1379.83" y1="356.1" x2="1379.83" y2="634.2" stroke="#e3e3e3" stroke-width="1.2" />
<line x1="1098" y1="429.35" x2="1481" y2="429.35" stroke="#e3e3e3" stroke-width="1.2" />
<line x1="1470.3" y1="356.1" x2="1470.3" y2="634.2" stroke="#e3e3e3" stroke-width="1.2" />
<line x1="1098" y1="365.3" x2="1481" y2="365.3" stroke="#e3e3e3" stroke-width="1.2" />
</g>
<rect x="1345" y="573.6" width="137" height="47" fill="#fff" />
<path d="M1108.4 364.28 L1470.3 364.28" fill="none" stroke="#000" stroke-width="5.6" stroke-linejoin="miter" stroke-linecap="butt"/>
<path d="M1108.4 367.09 L1470.3 367.09" fill="none" stroke="#dd2222" stroke-width="5.6" stroke-linejoin="miter" stroke-linecap="butt"/>
<path d="M1108.4 370.42 L1470.3 370.42" fill="none" stroke="#3750a6" stroke-width="5.6" stroke-linejoin="miter" stroke-linecap="butt"/>
<path d="M1098 356.1 V634.2 H1481" fill="none" stroke="#000" stroke-width="3.6"/>
<line x1="1108.4" y1="634.2" x2="1108.4" y2="628.2" stroke="#000" stroke-width="3" />
<line x1="1098" y1="621.5" x2="1104.5" y2="621.5" stroke="#000" stroke-width="3" />
<text x="1087.5" y="630.5" font-size="33.5" text-anchor="end" fill="#000" >0</text>
<line x1="1198.88" y1="634.2" x2="1198.88" y2="628.2" stroke="#000" stroke-width="3" />
<line x1="1098" y1="557.45" x2="1104.5" y2="557.45" stroke="#000" stroke-width="3" />
<text x="1087.5" y="569.45" font-size="33.5" text-anchor="end" fill="#000" >25</text>
<line x1="1289.35" y1="634.2" x2="1289.35" y2="628.2" stroke="#000" stroke-width="3" />
<line x1="1098" y1="493.4" x2="1104.5" y2="493.4" stroke="#000" stroke-width="3" />
<text x="1087.5" y="505.4" font-size="33.5" text-anchor="end" fill="#000" >50</text>
<line x1="1379.83" y1="634.2" x2="1379.83" y2="628.2" stroke="#000" stroke-width="3" />
<line x1="1098" y1="429.35" x2="1104.5" y2="429.35" stroke="#000" stroke-width="3" />
<text x="1087.5" y="441.35" font-size="33.5" text-anchor="end" fill="#000" >75</text>
<line x1="1470.3" y1="634.2" x2="1470.3" y2="628.2" stroke="#000" stroke-width="3" />
<line x1="1098" y1="365.3" x2="1104.5" y2="365.3" stroke="#000" stroke-width="3" />
<text x="1087.5" y="377.3" font-size="33.5" text-anchor="end" fill="#000" >100</text>
<text x="1471.5" y="607" font-size="34.5" text-anchor="end" fill="#000" >U2932</text>
<g stroke="#e3e3e3" stroke-width="1.2">
<line x1="1107.7" y1="650.4" x2="1107.7" y2="923" stroke="#e3e3e3" stroke-width="1.2" />
<line x1="1097.6" y1="910.7" x2="1477.4" y2="910.7" stroke="#e3e3e3" stroke-width="1.2" />
<line x1="1197.8" y1="650.4" x2="1197.8" y2="923" stroke="#e3e3e3" stroke-width="1.2" />
<line x1="1097.6" y1="848.68" x2="1477.4" y2="848.68" stroke="#e3e3e3" stroke-width="1.2" />
<line x1="1287.9" y1="650.4" x2="1287.9" y2="923" stroke="#e3e3e3" stroke-width="1.2" />
<line x1="1097.6" y1="786.65" x2="1477.4" y2="786.65" stroke="#e3e3e3" stroke-width="1.2" />
<line x1="1378" y1="650.4" x2="1378" y2="923" stroke="#e3e3e3" stroke-width="1.2" />
<line x1="1097.6" y1="724.62" x2="1477.4" y2="724.62" stroke="#e3e3e3" stroke-width="1.2" />
<line x1="1468.1" y1="650.4" x2="1468.1" y2="923" stroke="#e3e3e3" stroke-width="1.2" />
<line x1="1097.6" y1="662.6" x2="1477.4" y2="662.6" stroke="#e3e3e3" stroke-width="1.2" />
</g>
<path d="M1107.7 662.6 L1468.1 662.6" fill="none" stroke="#000" stroke-width="5.6" stroke-linejoin="miter" stroke-linecap="butt"/>
<path d="M1107.7 662.6 L1179.78 761.84 L1251.86 910.7 L1468.1 910.7" fill="none" stroke="#dd2222" stroke-width="5.6" stroke-linejoin="miter" stroke-linecap="butt"/>
<path d="M1107.7 662.6 L1143.74 662.6 L1215.82 712.22 L1287.9 712.22 L1359.98 761.84 L1396.02 761.84 L1432.06 836.27 L1468.1 861.08" fill="none" stroke="#3750a6" stroke-width="5.6" stroke-linejoin="miter" stroke-linecap="butt"/>
<path d="M1097.6 650.4 V923 H1477.4" fill="none" stroke="#000" stroke-width="3.6"/>
<line x1="1107.7" y1="923" x2="1107.7" y2="917" stroke="#000" stroke-width="3" />
<line x1="1097.6" y1="910.7" x2="1104.1" y2="910.7" stroke="#000" stroke-width="3" />
<text x="1087.5" y="919.7" font-size="33.5" text-anchor="end" fill="#000" >0</text>
<line x1="1197.8" y1="923" x2="1197.8" y2="917" stroke="#000" stroke-width="3" />
<line x1="1097.6" y1="848.68" x2="1104.1" y2="848.68" stroke="#000" stroke-width="3" />
<text x="1087.5" y="860.68" font-size="33.5" text-anchor="end" fill="#000" >25</text>
<line x1="1287.9" y1="923" x2="1287.9" y2="917" stroke="#000" stroke-width="3" />
<line x1="1097.6" y1="786.65" x2="1104.1" y2="786.65" stroke="#000" stroke-width="3" />
<text x="1087.5" y="798.65" font-size="33.5" text-anchor="end" fill="#000" >50</text>
<line x1="1378" y1="923" x2="1378" y2="917" stroke="#000" stroke-width="3" />
<line x1="1097.6" y1="724.62" x2="1104.1" y2="724.62" stroke="#000" stroke-width="3" />
<text x="1087.5" y="736.62" font-size="33.5" text-anchor="end" fill="#000" >75</text>
<line x1="1468.1" y1="923" x2="1468.1" y2="917" stroke="#000" stroke-width="3" />
<line x1="1097.6" y1="662.6" x2="1104.1" y2="662.6" stroke="#000" stroke-width="3" />
<text x="1087.5" y="674.6" font-size="33.5" text-anchor="end" fill="#000" >100</text>
<text x="1469" y="709.5" font-size="34.5" text-anchor="end" fill="#000" >RC-K8</text>
<g stroke="#e3e3e3" stroke-width="1.2">
<line x1="1108.4" y1="939.2" x2="1108.4" y2="1215" stroke="#e3e3e3" stroke-width="1.2" />
<line x1="1099.3" y1="1201.9" x2="1476.5" y2="1201.9" stroke="#e3e3e3" stroke-width="1.2" />
<line x1="1198.1" y1="939.2" x2="1198.1" y2="1215" stroke="#e3e3e3" stroke-width="1.2" />
<line x1="1099.3" y1="1139.23" x2="1476.5" y2="1139.23" stroke="#e3e3e3" stroke-width="1.2" />
<line x1="1287.8" y1="939.2" x2="1287.8" y2="1215" stroke="#e3e3e3" stroke-width="1.2" />
<line x1="1099.3" y1="1076.55" x2="1476.5" y2="1076.55" stroke="#e3e3e3" stroke-width="1.2" />
<line x1="1377.5" y1="939.2" x2="1377.5" y2="1215" stroke="#e3e3e3" stroke-width="1.2" />
<line x1="1099.3" y1="1013.88" x2="1476.5" y2="1013.88" stroke="#e3e3e3" stroke-width="1.2" />
<line x1="1467.2" y1="939.2" x2="1467.2" y2="1215" stroke="#e3e3e3" stroke-width="1.2" />
<line x1="1099.3" y1="951.2" x2="1476.5" y2="951.2" stroke="#e3e3e3" stroke-width="1.2" />
</g>
<path d="M1108.4 950.95 L1467.2 953.21" fill="none" stroke="#000" stroke-width="5.6" stroke-linejoin="miter" stroke-linecap="butt"/>
<path d="M1108.4 951.2 L1144.28 1002.34 L1180.16 1101.62 L1216.04 1151.76 L1251.92 1177.08 L1287.8 1202.9 L1467.2 1204.41" fill="none" stroke="#dd2222" stroke-width="5.6" stroke-linejoin="miter" stroke-linecap="butt"/>
<path d="M1108.4 951.2 L1144.28 1002.34 L1180.16 1026.91 L1216.04 1077.55 L1251.92 1177.08 L1287.8 1202.9 L1467.2 1204.41" fill="none" stroke="#3750a6" stroke-width="5.6" stroke-linejoin="miter" stroke-linecap="butt"/>
<path d="M1099.3 939.2 V1215 H1476.5" fill="none" stroke="#000" stroke-width="3.6"/>
<line x1="1108.4" y1="1215" x2="1108.4" y2="1209" stroke="#000" stroke-width="3" />
<line x1="1099.3" y1="1201.9" x2="1105.8" y2="1201.9" stroke="#000" stroke-width="3" />
<text x="1087.5" y="1210.9" font-size="33.5" text-anchor="end" fill="#000" >0</text>
<line x1="1198.1" y1="1215" x2="1198.1" y2="1209" stroke="#000" stroke-width="3" />
<line x1="1099.3" y1="1139.23" x2="1105.8" y2="1139.23" stroke="#000" stroke-width="3" />
<text x="1087.5" y="1151.23" font-size="33.5" text-anchor="end" fill="#000" >25</text>
<line x1="1287.8" y1="1215" x2="1287.8" y2="1209" stroke="#000" stroke-width="3" />
<line x1="1099.3" y1="1076.55" x2="1105.8" y2="1076.55" stroke="#000" stroke-width="3" />
<text x="1087.5" y="1088.55" font-size="33.5" text-anchor="end" fill="#000" >50</text>
<line x1="1377.5" y1="1215" x2="1377.5" y2="1209" stroke="#000" stroke-width="3" />
<line x1="1099.3" y1="1013.88" x2="1105.8" y2="1013.88" stroke="#000" stroke-width="3" />
<text x="1087.5" y="1025.88" font-size="33.5" text-anchor="end" fill="#000" >75</text>
<line x1="1467.2" y1="1215" x2="1467.2" y2="1209" stroke="#000" stroke-width="3" />
<line x1="1099.3" y1="951.2" x2="1105.8" y2="951.2" stroke="#000" stroke-width="3" />
<text x="1087.5" y="963.2" font-size="33.5" text-anchor="end" fill="#000" >100</text>
<text x="1471" y="1002" font-size="34.5" text-anchor="end" fill="#000" >SUDHL8</text>
<g stroke="#e3e3e3" stroke-width="1.2">
<line x1="1110.2" y1="1237.7" x2="1110.2" y2="1513" stroke="#e3e3e3" stroke-width="1.2" />
<line x1="1100.3" y1="1500.8" x2="1476.5" y2="1500.8" stroke="#e3e3e3" stroke-width="1.2" />
<line x1="1199.3" y1="1237.7" x2="1199.3" y2="1513" stroke="#e3e3e3" stroke-width="1.2" />
<line x1="1100.3" y1="1438.02" x2="1476.5" y2="1438.02" stroke="#e3e3e3" stroke-width="1.2" />
<line x1="1288.4" y1="1237.7" x2="1288.4" y2="1513" stroke="#e3e3e3" stroke-width="1.2" />
<line x1="1100.3" y1="1375.25" x2="1476.5" y2="1375.25" stroke="#e3e3e3" stroke-width="1.2" />
<line x1="1377.5" y1="1237.7" x2="1377.5" y2="1513" stroke="#e3e3e3" stroke-width="1.2" />
<line x1="1100.3" y1="1312.47" x2="1476.5" y2="1312.47" stroke="#e3e3e3" stroke-width="1.2" />
<line x1="1466.6" y1="1237.7" x2="1466.6" y2="1513" stroke="#e3e3e3" stroke-width="1.2" />
<line x1="1100.3" y1="1249.7" x2="1476.5" y2="1249.7" stroke="#e3e3e3" stroke-width="1.2" />
</g>
<path d="M1110.2 1248.19 L1466.6 1248.19" fill="none" stroke="#000" stroke-width="5.6" stroke-linejoin="miter" stroke-linecap="butt"/>
<path d="M1110.2 1251.71 L1466.6 1251.71" fill="none" stroke="#dd2222" stroke-width="5.6" stroke-linejoin="miter" stroke-linecap="butt"/>
<path d="M1110.2 1249.7 L1145.84 1249.7 L1217.12 1299.92 L1288.4 1299.92 L1324.04 1325.03 L1359.68 1325.03 L1430.96 1375.25 L1466.6 1375.25" fill="none" stroke="#3750a6" stroke-width="5.6" stroke-linejoin="miter" stroke-linecap="butt"/>
<path d="M1100.3 1237.7 V1513 H1476.5" fill="none" stroke="#000" stroke-width="3.6"/>
<line x1="1110.2" y1="1513" x2="1110.2" y2="1507" stroke="#000" stroke-width="3" />
<line x1="1100.3" y1="1500.8" x2="1106.8" y2="1500.8" stroke="#000" stroke-width="3" />
<text x="1087.5" y="1509.8" font-size="33.5" text-anchor="end" fill="#000" >0</text>
<line x1="1199.3" y1="1513" x2="1199.3" y2="1507" stroke="#000" stroke-width="3" />
<line x1="1100.3" y1="1438.02" x2="1106.8" y2="1438.02" stroke="#000" stroke-width="3" />
<text x="1087.5" y="1450.02" font-size="33.5" text-anchor="end" fill="#000" >25</text>
<line x1="1288.4" y1="1513" x2="1288.4" y2="1507" stroke="#000" stroke-width="3" />
<line x1="1100.3" y1="1375.25" x2="1106.8" y2="1375.25" stroke="#000" stroke-width="3" />
<text x="1087.5" y="1387.25" font-size="33.5" text-anchor="end" fill="#000" >50</text>
<line x1="1377.5" y1="1513" x2="1377.5" y2="1507" stroke="#000" stroke-width="3" />
<line x1="1100.3" y1="1312.47" x2="1106.8" y2="1312.47" stroke="#000" stroke-width="3" />
<text x="1087.5" y="1324.47" font-size="33.5" text-anchor="end" fill="#000" >75</text>
<line x1="1466.6" y1="1513" x2="1466.6" y2="1507" stroke="#000" stroke-width="3" />
<line x1="1100.3" y1="1249.7" x2="1106.8" y2="1249.7" stroke="#000" stroke-width="3" />
<text x="1087.5" y="1261.7" font-size="33.5" text-anchor="end" fill="#000" >100</text>
<text x="1464" y="1481" font-size="34.5" text-anchor="end" fill="#000" >SUDHL10</text>
<g stroke="#e3e3e3" stroke-width="1.2">
<line x1="1108.8" y1="1527.7" x2="1108.8" y2="1802.3" stroke="#e3e3e3" stroke-width="1.2" />
<line x1="1098.7" y1="1789.7" x2="1473.8" y2="1789.7" stroke="#e3e3e3" stroke-width="1.2" />
<line x1="1197.6" y1="1527.7" x2="1197.6" y2="1802.3" stroke="#e3e3e3" stroke-width="1.2" />
<line x1="1098.7" y1="1727.2" x2="1473.8" y2="1727.2" stroke="#e3e3e3" stroke-width="1.2" />
<line x1="1286.4" y1="1527.7" x2="1286.4" y2="1802.3" stroke="#e3e3e3" stroke-width="1.2" />
<line x1="1098.7" y1="1664.7" x2="1473.8" y2="1664.7" stroke="#e3e3e3" stroke-width="1.2" />
<line x1="1375.2" y1="1527.7" x2="1375.2" y2="1802.3" stroke="#e3e3e3" stroke-width="1.2" />
<line x1="1098.7" y1="1602.2" x2="1473.8" y2="1602.2" stroke="#e3e3e3" stroke-width="1.2" />
<line x1="1464" y1="1527.7" x2="1464" y2="1802.3" stroke="#e3e3e3" stroke-width="1.2" />
<line x1="1098.7" y1="1539.7" x2="1473.8" y2="1539.7" stroke="#e3e3e3" stroke-width="1.2" />
</g>
<path d="M1108.8 1538.2 L1464 1538.2" fill="none" stroke="#000" stroke-width="5.6" stroke-linejoin="miter" stroke-linecap="butt"/>
<path d="M1108.8 1541.7 L1464 1541.7" fill="none" stroke="#dd2222" stroke-width="5.6" stroke-linejoin="miter" stroke-linecap="butt"/>
<path d="M1108.8 1539.7 L1179.84 1589.7 L1250.88 1589.7 L1392.96 1689.7 L1464 1789.7" fill="none" stroke="#3750a6" stroke-width="5.6" stroke-linejoin="miter" stroke-linecap="butt"/>
<path d="M1098.7 1527.7 V1802.3 H1473.8" fill="none" stroke="#000" stroke-width="3.6"/>
<line x1="1108.8" y1="1802.3" x2="1108.8" y2="1796.3" stroke="#000" stroke-width="3" />
<line x1="1098.7" y1="1789.7" x2="1105.2" y2="1789.7" stroke="#000" stroke-width="3" />
<text x="1087.5" y="1798.7" font-size="33.5" text-anchor="end" fill="#000" >0</text>
<line x1="1197.6" y1="1802.3" x2="1197.6" y2="1796.3" stroke="#000" stroke-width="3" />
<line x1="1098.7" y1="1727.2" x2="1105.2" y2="1727.2" stroke="#000" stroke-width="3" />
<text x="1087.5" y="1739.2" font-size="33.5" text-anchor="end" fill="#000" >25</text>
<line x1="1286.4" y1="1802.3" x2="1286.4" y2="1796.3" stroke="#000" stroke-width="3" />
<line x1="1098.7" y1="1664.7" x2="1105.2" y2="1664.7" stroke="#000" stroke-width="3" />
<text x="1087.5" y="1676.7" font-size="33.5" text-anchor="end" fill="#000" >50</text>
<line x1="1375.2" y1="1802.3" x2="1375.2" y2="1796.3" stroke="#000" stroke-width="3" />
<line x1="1098.7" y1="1602.2" x2="1105.2" y2="1602.2" stroke="#000" stroke-width="3" />
<text x="1087.5" y="1614.2" font-size="33.5" text-anchor="end" fill="#000" >75</text>
<line x1="1464" y1="1802.3" x2="1464" y2="1796.3" stroke="#000" stroke-width="3" />
<line x1="1098.7" y1="1539.7" x2="1105.2" y2="1539.7" stroke="#000" stroke-width="3" />
<text x="1087.5" y="1551.7" font-size="33.5" text-anchor="end" fill="#000" >100</text>
<text x="1467.5" y="1588" font-size="34.5" text-anchor="end" fill="#000" >U2946</text>
<text font-size="56.3" fill="#111" transform="translate(-0.4 40.9) scale(0.93 1)">A</text>
<text font-size="58.5" fill="#111" transform="translate(944.2 48.4) scale(0.84 1)">B</text>
<line x1="36.7" y1="55.1" x2="36.7" y2="763.8" stroke="#000" stroke-width="3" />
<line x1="36.7" y1="1088.4" x2="36.7" y2="1801.2" stroke="#000" stroke-width="3" />
<text font-size="36" text-anchor="middle" fill="#111" textLength="306" lengthAdjust="spacingAndGlyphs" transform="translate(50.3 928) rotate(-90)">Relative Abundance</text>
<line x1="1004.8" y1="74.9" x2="1004.8" y2="841.8" stroke="#000" stroke-width="3" />
<line x1="1004.8" y1="1048.6" x2="1004.8" y2="1821.1" stroke="#000" stroke-width="3" />
<text font-size="35" text-anchor="middle" fill="#111" transform="translate(1013.8 946.4) rotate(-90)">Viability (%)</text>
<text x="1304.3" y="47" font-size="35" text-anchor="middle" fill="#111" >Simulation</text>
<text x="1565" y="46.5" font-size="35" text-anchor="start" fill="#111" >Experiment</text>
<text x="1565.3" y="73.9" font-size="23.2" fill="#111">Smith <tspan font-style="italic">et al.</tspan> 2020</text>
<text x="1572.2" y="162.1" font-size="35" fill="#111">EC<tspan x="1620.3" font-size="19" dy="11">50</tspan><tspan x="1653" dy="-11">(μM)</tspan></text>
<line x1="1572" y1="164.9" x2="1620.5" y2="164.9" stroke="#222" stroke-width="1.9" />
<line x1="1641.5" y1="164.9" x2="1725" y2="164.9" stroke="#222" stroke-width="1.9" />
<line x1="1620.3" y1="176.4" x2="1642" y2="176.4" stroke="#222" stroke-width="1.6" />
<text x="1648.5" y="204.2" font-size="35" text-anchor="middle" fill="#111" >0.008</text>
<text x="1648.5" y="246" font-size="35" text-anchor="middle" fill="#d62020" >1.13</text>
<text x="1648.5" y="287.8" font-size="35" text-anchor="middle" fill="#2a6dba" >5.50</text>
<text x="1572.2" y="447.6" font-size="35" fill="#111">EC<tspan x="1620.3" font-size="19" dy="11">50</tspan><tspan x="1653" dy="-11">(μM)</tspan></text>
<line x1="1572" y1="450.4" x2="1620.5" y2="450.4" stroke="#222" stroke-width="1.9" />
<line x1="1641.5" y1="450.4" x2="1725" y2="450.4" stroke="#222" stroke-width="1.9" />
<line x1="1620.3" y1="461.9" x2="1642" y2="461.9" stroke="#222" stroke-width="1.6" />
<text x="1648.5" y="489.7" font-size="35" text-anchor="middle" fill="#111" >1.43</text>
<text x="1648.5" y="531.5" font-size="35" text-anchor="middle" fill="#d62020" >4.52</text>
<text x="1648.5" y="573.3" font-size="35" text-anchor="middle" fill="#2a6dba" >5.26</text>
<text x="1572.2" y="730.2" font-size="35" fill="#111">EC<tspan x="1620.3" font-size="19" dy="11">50</tspan><tspan x="1653" dy="-11">(μM)</tspan></text>
<line x1="1572" y1="733" x2="1620.5" y2="733" stroke="#222" stroke-width="1.9" />
<line x1="1641.5" y1="733" x2="1725" y2="733" stroke="#222" stroke-width="1.9" />
<line x1="1620.3" y1="744.5" x2="1642" y2="744.5" stroke="#222" stroke-width="1.6" />
<text x="1648.5" y="772.3" font-size="35" text-anchor="middle" fill="#111" >&gt;10</text>
<text x="1648.5" y="814.1" font-size="35" text-anchor="middle" fill="#d62020" >0.0006</text>
<text x="1648.5" y="855.9" font-size="35" text-anchor="middle" fill="#2a6dba" >4.87</text>
<text x="1572.2" y="1033.9" font-size="35" fill="#111">EC<tspan x="1620.3" font-size="19" dy="11">50</tspan><tspan x="1653" dy="-11">(μM)</tspan></text>
<line x1="1572" y1="1036.7" x2="1620.5" y2="1036.7" stroke="#222" stroke-width="1.9" />
<line x1="1641.5" y1="1036.7" x2="1725" y2="1036.7" stroke="#222" stroke-width="1.9" />
<line x1="1620.3" y1="1048.2" x2="1642" y2="1048.2" stroke="#222" stroke-width="1.6" />
<text x="1648.5" y="1076" font-size="35" text-anchor="middle" fill="#111" >6.17</text>
<text x="1648.5" y="1117.8" font-size="35" text-anchor="middle" fill="#d62020" >0.005</text>
<text x="1648.5" y="1159.6" font-size="35" text-anchor="middle" fill="#2a6dba" >0.53</text>
<text x="1572.2" y="1325.7" font-size="35" fill="#111">EC<tspan x="1620.3" font-size="19" dy="11">50</tspan><tspan x="1653" dy="-11">(μM)</tspan></text>
<line x1="1572" y1="1328.5" x2="1620.5" y2="1328.5" stroke="#222" stroke-width="1.9" />
<line x1="1641.5" y1="1328.5" x2="1725" y2="1328.5" stroke="#222" stroke-width="1.9" />
<line x1="1620.3" y1="1340" x2="1642" y2="1340" stroke="#222" stroke-width="1.6" />
<text x="1648.5" y="1367.8" font-size="35" text-anchor="middle" fill="#111" >&gt;10</text>
<text x="1648.5" y="1409.6" font-size="35" text-anchor="middle" fill="#d62020" >&gt;10</text>
<text x="1648.5" y="1451.4" font-size="35" text-anchor="middle" fill="#2a6dba" >0.006</text>
<text x="1572.2" y="1609" font-size="35" fill="#111">EC<tspan x="1620.3" font-size="19" dy="11">50</tspan><tspan x="1653" dy="-11">(μM)</tspan></text>
<line x1="1572" y1="1611.8" x2="1620.5" y2="1611.8" stroke="#222" stroke-width="1.9" />
<line x1="1641.5" y1="1611.8" x2="1725" y2="1611.8" stroke="#222" stroke-width="1.9" />
<line x1="1620.3" y1="1623.3" x2="1642" y2="1623.3" stroke="#222" stroke-width="1.6" />
<text x="1648.5" y="1651.1" font-size="35" text-anchor="middle" fill="#111" >&gt;10</text>
<text x="1648.5" y="1692.9" font-size="35" text-anchor="middle" fill="#d62020" >&gt;10</text>
<text x="1648.5" y="1734.7" font-size="35" text-anchor="middle" fill="#2a6dba" >0.14</text>
<text font-size="35.2" text-anchor="end" fill="#111" transform="translate(169.8 1829.2) rotate(-45)">BCL2</text>
<text font-size="35.2" text-anchor="end" fill="#111" transform="translate(240.8 1824.1) rotate(-45)">BCL-xL</text>
<text font-size="35.2" text-anchor="end" fill="#111" transform="translate(299.5 1833) rotate(-45)">MCL1</text>
<text font-size="35.2" text-anchor="end" fill="#111" transform="translate(366.9 1833.2) rotate(-45)">BCL2A1</text>
<text font-size="35.2" text-anchor="end" fill="#111" transform="translate(425.4 1833.7) rotate(-45)">BAK</text>
<text font-size="35.2" text-anchor="end" fill="#111" transform="translate(491.2 1834.3) rotate(-45)">BAX</text>
<text font-size="35.2" text-anchor="end" fill="#111" transform="translate(558.3 1833.1) rotate(-45)">BIM</text>
<text font-size="35.2" text-anchor="end" fill="#111" transform="translate(623.6 1829.1) rotate(-45)">NOXA</text>
<text font-size="35.2" text-anchor="end" fill="#111" transform="translate(687.6 1828.8) rotate(-45)">PUMA</text>
<text font-size="35.2" text-anchor="end" fill="#111" transform="translate(839.8 1821.8) rotate(-45)">Exp</text>
<text font-size="35.2" text-anchor="end" fill="#111" transform="translate(907.1 1823) rotate(-45)">Sim</text>
<text x="1106.6" y="1834" font-size="33.5" text-anchor="middle" fill="#111" >0</text>
<text x="1193.7" y="1834" font-size="33.5" text-anchor="middle" fill="#111" >25</text>
<text x="1282.6" y="1834" font-size="33.5" text-anchor="middle" fill="#111" >50</text>
<text x="1373.3" y="1834" font-size="33.5" text-anchor="middle" fill="#111" >75</text>
<text x="1461.1" y="1834" font-size="33.5" text-anchor="middle" fill="#111" >100</text>
<text x="1295.9" y="1872.3" font-size="34.3" text-anchor="middle" fill="#111" >Inhibition (%)</text>
<rect x="119.2" y="1963.5" width="479" height="82" fill="none" stroke="#111" stroke-width="2.8"/>
<rect x="134" y="1983.3" width="40" height="40" fill="#4a72b5" stroke="#1a1a1a" stroke-width="3.2"/>
<text x="184.6" y="2004" font-size="34.5" text-anchor="start" fill="#111" >Experiment</text>
<text x="183.5" y="2031" font-size="23.2" fill="#111">Smith <tspan font-style="italic">et al.</tspan> 2020</text>
<rect x="379.5" y="1985.3" width="40" height="40.8" fill="#ea8550" stroke="#1a1a1a" stroke-width="3.2"/>
<text x="427.2" y="2014.3" font-size="34.5" text-anchor="start" fill="#111" >Simulation</text>
<path d="M710.6 1961 H684.5 V2126.8 H1002.4 V1961 H975.6" fill="none" stroke="#111" stroke-width="2.6"/>
<text x="847.6" y="1953.2" font-size="35" text-anchor="middle" fill="#111" >anti-apoptotic</text>
<text x="846.9" y="1979.6" font-size="35" text-anchor="middle" fill="#111" >binding partners</text>
<rect x="709.3" y="2012" width="40.5" height="40.5" fill="#385723" />
<rect x="709.3" y="2061.5" width="40.5" height="40.5" fill="#70ad45" />
<rect x="840.9" y="2011" width="40.3" height="40.5" fill="#293c6d" />
<rect x="840.9" y="2060.9" width="40.3" height="40.2" fill="#4770b8" />
<text x="755.8" y="2044.7" font-size="35" text-anchor="start" fill="#111" >BAX</text>
<text x="755.8" y="2094.8" font-size="35" text-anchor="start" fill="#111" >BAK</text>
<text x="886" y="2045.8" font-size="35" text-anchor="start" fill="#111" >BIM</text>
<text x="888.6" y="2094.8" font-size="35" text-anchor="start" fill="#111" >NOXA</text>
<path d="M1154 1962.3 H1132.4 V2105.2 H1492.1 V1962.3 H1478" fill="none" stroke="#111" stroke-width="2.4"/>
<text x="1311" y="1972.7" font-size="35" text-anchor="middle" fill="#111" >BH3-mimetic/target</text>
<line x1="1159.4" y1="2003.4" x2="1186.8" y2="2003.4" stroke="#000" stroke-width="8" />
<line x1="1159.4" y1="2040.2" x2="1186.8" y2="2040.2" stroke="#dd2222" stroke-width="8" />
<line x1="1159.4" y1="2076.9" x2="1186.8" y2="2076.9" stroke="#2e6fb8" stroke-width="8" />
<text x="1199" y="2014.3" font-size="34.4" text-anchor="start" fill="#111" >ABT199/BCL2</text>
<text x="1198.3" y="2051.5" font-size="34.6" text-anchor="start" fill="#d62020" >A1331852/BCL-xL</text>
<text x="1197.5" y="2088.7" font-size="34" text-anchor="start" fill="#2a6dba" >S63845/MCL1</text>
</svg>
</body></html>
